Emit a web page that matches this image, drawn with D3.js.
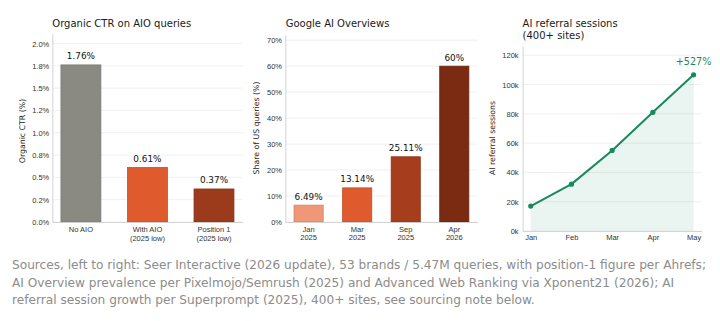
<!DOCTYPE html>
<html>
<head>
<meta charset="utf-8">
<script src="https://cdn.jsdelivr.net/npm/d3@7"></script>
<style>
    body { margin: 0; background: #fff; }
    svg { display: block; font-family: "DejaVu Sans", sans-serif; }
    .grid line { stroke: #ececec; stroke-width: 0.8; }
    .axis path.domain { stroke: #cfcfcf; stroke-width: 0.9; }
    .axis text { fill: #333; font-size: 7.5px; }
    .title { fill: #1a1a1a; font-size: 10px; }
    .ylabel { fill: #222; font-size: 7.8px; }
    .barlabel { fill: #111; font-size: 8.9px; }
    .footer { fill: #8c8c8c; font-size: 12.15px; }
</style>
</head>
<body>
<div id="chart"></div>
<script>

// ---- data ----
const ctrCategories = ["No AIO", "With AIO\n(2025 low)", "Position 1\n(2025 low)"];
const ctrValues = [1.76, 0.61, 0.37];
const ctrLabels = ["1.76%", "0.61%", "0.37%"];
const ctrColors = ["#8a8a83", "#df5b2d", "#9c3b1c"];
const ctrTicks = [0, 0.25, 0.5, 0.75, 1.0, 1.25, 1.5, 1.75, 2.0];
const ctrTickLabels = ["0.0%", "0.2%", "0.5%", "0.8%", "1.0%", "1.2%", "1.5%", "1.8%", "2.0%"];

const aioCategories = ["Jan\n2025", "Mar\n2025", "Sep\n2025", "Apr\n2026"];
const aioValues = [6.49, 13.14, 25.11, 60];
const aioLabels = ["6.49%", "13.14%", "25.11%", "60%"];
const aioColors = ["#ef9776", "#df5b2d", "#a63d1c", "#7a2b12"];
const aioTicks = [0, 10, 20, 30, 40, 50, 60, 70];

const sessionMonths = ["Jan", "Feb", "Mar", "Apr", "May"];
const sessionValues = [17000, 32000, 55000, 81000, 106600];
const sessionTicks = [0, 20000, 40000, 60000, 80000, 100000, 120000];
const growthLabel = "+527%";

const footerLines = [
    "Sources, left to right: Seer Interactive (2026 update), 53 brands / 5.47M queries, with position-1 figure per Ahrefs;",
    "AI Overview prevalence per Pixelmojo/Semrush (2025) and Advanced Web Ranking via Xponent21 (2026); AI",
    "referral session growth per Superprompt (2025), 400+ sites, see sourcing note below."
];

const svg = d3.select("#chart").append("svg")
    .attr("width", 720)
    .attr("height", 321);

// multi-line tick labels ("\n" splits lines)
function splitLines(sel, lineH) {
    sel.each(function () {
        let t = d3.select(this);
        let parts = t.text().split("\n");
        let x = t.attr("x") || 0;
        t.text(null);
        parts.forEach((p, i) => {
            t.append("tspan").attr("x", x).attr("dy", i === 0 ? 0 : lineH).text(p);
        });
    });
}

function yAxisAndGrid(g, y, ticks, fmt, left, right, pad) {
    g.append("g")
        .attr("class", "grid")
        .selectAll("line")
        .data(ticks)
        .join("line")
        .attr("x1", left).attr("x2", right)
        .attr("y1", d => y(d)).attr("y2", d => y(d));

    g.append("g")
        .attr("class", "axis y-axis")
        .attr("transform", `translate(${left},0)`)
        .call(d3.axisLeft(y).tickValues(ticks).tickFormat(fmt).tickSize(0).tickPadding(pad))
        .selectAll("text").attr("dy", "0.34em");
}

function xAxis(g, x, bottom, pad, lineH) {
    let ax = g.append("g")
        .attr("class", "axis x-axis")
        .attr("transform", `translate(0,${bottom})`)
        .call(d3.axisBottom(x).tickSize(0).tickPadding(pad));
    ax.selectAll("text").attr("dy", "0").call(splitLines, lineH);
}

// ---- panel 1: organic CTR ----
(function () {
    let g = svg.append("g");
    let left = 52.3, right = 242.6, top = 33.5, bottom = 222;

    let x = d3.scaleBand().domain(ctrCategories).range([left, right])
        .paddingInner(0.4).paddingOuter(0.13);
    let y = d3.scaleLinear().domain([0, 2.112]).range([bottom, top]);

    yAxisAndGrid(g, y, ctrTicks, (d, i) => ctrTickLabels[i], left, right, 3);

    g.selectAll(".bar")
        .data(ctrValues)
        .join("rect")
        .attr("class", "bar")
        .attr("x", (d, i) => x(ctrCategories[i]))
        .attr("y", d => y(d))
        .attr("width", x.bandwidth())
        .attr("height", d => bottom - y(d))
        .attr("fill", (d, i) => ctrColors[i])
        .attr("stroke", (d, i) => d3.color(ctrColors[i]).darker(0.4))
        .attr("stroke-width", 0.8);

    g.selectAll(".barlabel")
        .data(ctrValues)
        .join("text")
        .attr("class", "barlabel")
        .attr("text-anchor", "middle")
        .attr("x", (d, i) => x(ctrCategories[i]) + x.bandwidth() / 2)
        .attr("y", d => y(d) - 5.5)
        .text((d, i) => ctrLabels[i]);

    xAxis(g, x, bottom, 0, 8.8);
    g.select(".x-axis").selectAll("text").attr("y", 9.7);
    g.select(".x-axis").selectAll("tspan").attr("x", 0);

    g.append("text").attr("class", "title").attr("x", left).attr("y", 27).text("Organic CTR on AIO queries");
    g.append("text").attr("class", "ylabel")
        .attr("transform", "translate(25,131) rotate(-90)")
        .attr("text-anchor", "middle")
        .text("Organic CTR (%)");
})();

// ---- panel 2: AI Overviews share ----
(function () {
    let g = svg.append("g");
    let left = 285.3, right = 477.6, top = 35, bottom = 222;

    let x = d3.scaleBand().domain(aioCategories).range([left, right])
        .paddingInner(0.4).paddingOuter(0.18);
    let y = d3.scaleLinear().domain([0, 72]).range([bottom, top]);

    yAxisAndGrid(g, y, aioTicks, d => d + "%", left, right, 3.3);

    g.selectAll(".bar")
        .data(aioValues)
        .join("rect")
        .attr("class", "bar")
        .attr("x", (d, i) => x(aioCategories[i]))
        .attr("y", d => y(d))
        .attr("width", x.bandwidth())
        .attr("height", d => bottom - y(d))
        .attr("fill", (d, i) => aioColors[i])
        .attr("stroke", (d, i) => d3.color(aioColors[i]).darker(0.4))
        .attr("stroke-width", 0.8);

    g.selectAll(".barlabel")
        .data(aioValues)
        .join("text")
        .attr("class", "barlabel")
        .attr("text-anchor", "middle")
        .attr("x", (d, i) => x(aioCategories[i]) + x.bandwidth() / 2)
        .attr("y", d => y(d) - 5.5)
        .text((d, i) => aioLabels[i]);

    xAxis(g, x, bottom, 0, 8.8);
    g.select(".x-axis").selectAll("text").attr("y", 9.5);
    g.select(".x-axis").selectAll("tspan").attr("x", 0);

    g.append("text").attr("class", "title").attr("x", left + 0.4).attr("y", 27).text("Google AI Overviews");
    g.append("text").attr("class", "ylabel")
        .attr("transform", "translate(258.5,128) rotate(-90)")
        .attr("text-anchor", "middle")
        .text("Share of US queries (%)");
})();

// ---- panel 3: AI referral sessions ----
(function () {
    let g = svg.append("g");
    let left = 522.6, right = 701.7, top = 46, bottom = 231;

    let x = d3.scalePoint().domain(sessionMonths).range([left, right]).padding(0.2);
    let y = d3.scaleLinear().domain([0, 126300]).range([bottom, top]);

    yAxisAndGrid(g, y, sessionTicks, d => (d / 1000) + "k", left, right, 4);

    let pts = sessionMonths.map((m, i) => ({m: m, v: sessionValues[i]}));

    g.append("path")
        .datum(pts)
        .attr("fill", "#1a8a5c")
        .attr("fill-opacity", 0.09)
        .attr("d", d3.area().x(d => x(d.m)).y0(bottom).y1(d => y(d.v)));

    g.append("path")
        .datum(pts)
        .attr("fill", "none")
        .attr("stroke", "#178a5c")
        .attr("stroke-width", 2)
        .attr("stroke-linejoin", "round")
        .attr("d", d3.line().x(d => x(d.m)).y(d => y(d.v)));

    g.selectAll(".dot")
        .data(pts)
        .join("circle")
        .attr("class", "dot")
        .attr("cx", d => x(d.m))
        .attr("cy", d => y(d.v))
        .attr("r", 2.6)
        .attr("fill", "#178a5c");

    let last = pts[pts.length - 1];
    g.append("text")
        .attr("x", x(last.m))
        .attr("y", y(last.v) - 9.5)
        .attr("text-anchor", "middle")
        .attr("fill", "#178a5c")
        .attr("font-size", "9.7px")
        .text(growthLabel);

    xAxis(g, x, bottom, 0, 9);
    g.select(".x-axis").selectAll("text").attr("y", 8.8);

    g.append("text").attr("class", "title").attr("x", left).attr("y", 27).text("AI referral sessions");
    g.append("text").attr("class", "title").attr("x", left).attr("y", 38.5).text("(400+ sites)");
    g.append("text").attr("class", "ylabel")
        .attr("transform", "translate(494.5,138) rotate(-90)")
        .attr("text-anchor", "middle")
        .text("AI referral sessions");
})();

// ---- footer ----
svg.append("g")
    .selectAll("text")
    .data(footerLines)
    .join("text")
    .attr("class", "footer")
    .attr("x", 12)
    .attr("y", (d, i) => 269 + i * 17.5)
    .text(d => d);

</script>
</body>
</html>
